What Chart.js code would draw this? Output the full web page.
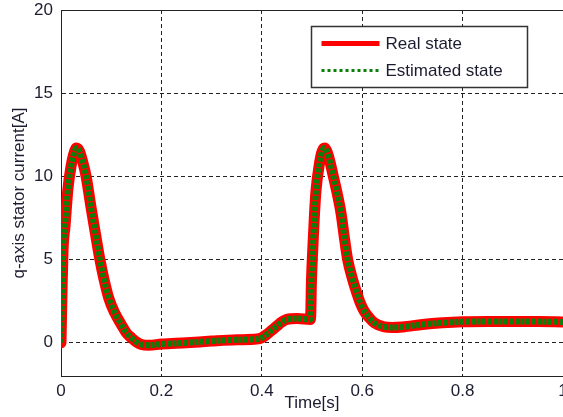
<!DOCTYPE html>
<html>
<head>
<meta charset="utf-8">
<script src="https://cdn.jsdelivr.net/npm/chart.js@4.4.1/dist/chart.umd.min.js"></script>
<style>
  html, body { margin: 0; padding: 0; background: #fff; }
  canvas { display: block; }
</style>
</head>
<body>
<canvas id="chart" width="563" height="417"></canvas>
<script>
// Datos (tiempo en s, corriente en A)
const timeValues = [0, 0.002, 0.004, 0.008, 0.014, 0.02, 0.025, 0.031, 0.037, 0.043, 0.05, 0.06, 0.07, 0.0775, 0.085, 0.095, 0.107, 0.12, 0.13, 0.14, 0.15, 0.16, 0.175, 0.2, 0.25, 0.3, 0.35, 0.39, 0.4, 0.41, 0.42, 0.43, 0.44, 0.45, 0.47, 0.497, 0.499, 0.502, 0.505, 0.508, 0.515, 0.52, 0.525, 0.532, 0.541, 0.55, 0.558, 0.565, 0.571, 0.58, 0.588, 0.596, 0.604, 0.614, 0.624, 0.644, 0.66, 0.68, 0.72, 0.76, 0.8, 0.85, 0.9, 0.95, 1.0];
const realState = [0, 3, 5.5, 7, 9.3, 10.6, 11.3, 11.7, 11.5, 10.9, 10.0, 8.1, 6.3, 5.0, 3.9, 2.7, 1.8, 1.1, 0.6, 0.3, 0.05, -0.1, -0.15, -0.08, 0.0, 0.1, 0.18, 0.22, 0.3, 0.5, 0.75, 1.0, 1.25, 1.4, 1.45, 1.4, 3.8, 5.9, 7.75, 9.15, 10.8, 11.5, 11.7, 11.3, 10.2, 9.0, 7.75, 6.2, 5.0, 3.9, 3.1, 2.4, 1.9, 1.5, 1.2, 0.95, 0.92, 0.95, 1.1, 1.2, 1.26, 1.28, 1.28, 1.27, 1.25];
const estimatedState = [0, 3, 5.5, 7, 9.3, 10.6, 11.3, 11.7, 11.5, 10.9, 10.0, 8.1, 6.3, 5.0, 3.9, 2.7, 1.8, 1.1, 0.6, 0.3, 0.05, -0.1, -0.15, -0.08, 0.0, 0.1, 0.18, 0.22, 0.3, 0.5, 0.75, 1.0, 1.25, 1.4, 1.45, 1.4, 3.8, 5.9, 7.75, 9.15, 10.8, 11.5, 11.7, 11.3, 10.2, 9.0, 7.75, 6.2, 5.0, 3.9, 3.1, 2.4, 1.9, 1.5, 1.2, 0.95, 0.92, 0.95, 1.1, 1.2, 1.26, 1.28, 1.28, 1.27, 1.25];
const seriesLabels = ['Real state', 'Estimated state'];
const xTickValues = [0, 0.2, 0.4, 0.6, 0.8, 1];
const yTickValues = [0, 5, 10, 15, 20];

const FONT = 'Liberation Sans, Arial, sans-serif';
const TEXT_COLOR = '#1c1c30';

const toPoints = (ys) => timeValues.map((t, i) => ({ x: t, y: ys[i] }));

// Marco superior y leyenda al estilo MATLAB
const framePlugin = {
  id: 'frame',
  afterDraw(chart) {
    const { ctx, chartArea } = chart;
    ctx.save();
    ctx.strokeStyle = '#222';
    ctx.lineWidth = 1;
    ctx.beginPath();
    ctx.moveTo(chartArea.left, chartArea.top + 0.5);
    ctx.lineTo(chartArea.right, chartArea.top + 0.5);
    ctx.stroke();

    // Leyenda
    const bx = chartArea.left + 250.5;
    const by = chartArea.top + 16.5;
    const bw = 216;
    const bh = 61;
    ctx.fillStyle = '#fff';
    ctx.fillRect(bx, by, bw, bh);
    ctx.strokeStyle = '#333';
    ctx.lineWidth = 1.5;
    ctx.strokeRect(bx, by, bw, bh);

    const rows = [by + 17, by + 44];
    chart.data.datasets.forEach((ds, i) => {
      ctx.beginPath();
      ctx.strokeStyle = ds.borderColor;
      ctx.lineWidth = i === 0 ? 5 : 3;
      ctx.setLineDash(i === 0 ? [] : [3, 3]);
      ctx.moveTo(bx + 10, rows[i]);
      ctx.lineTo(bx + 68, rows[i]);
      ctx.stroke();
      ctx.setLineDash([]);
      ctx.fillStyle = TEXT_COLOR;
      ctx.font = '17px ' + FONT;
      ctx.textBaseline = 'middle';
      ctx.textAlign = 'left';
      ctx.fillText(ds.label, bx + 74, rows[i] + 1);
    });
    ctx.restore();
  }
};

new Chart(document.getElementById('chart').getContext('2d'), {
  type: 'line',
  data: {
    datasets: [
      {
        label: seriesLabels[0],
        data: toPoints(realState),
        borderColor: '#ff0000',
        borderWidth: 11,
        pointRadius: 0,
        fill: false,
        order: 2,
        cubicInterpolationMode: 'monotone',
        borderJoinStyle: 'round',
        borderCapStyle: 'round'
      },
      {
        label: seriesLabels[1],
        data: toPoints(estimatedState),
        borderColor: '#0a800a',
        borderWidth: 6,
        borderDash: [4, 1.5],
        pointRadius: 0,
        fill: false,
        order: 1,
        cubicInterpolationMode: 'monotone'
      }
    ]
  },
  options: {
    responsive: false,
    animation: false,
    events: [],
    layout: {
      autoPadding: false,
      padding: { top: 10, right: 0, left: 0, bottom: 0 }
    },
    plugins: {
      legend: { display: false },
      tooltip: { enabled: false }
    },
    scales: {
      x: {
        type: 'linear',
        min: 0,
        max: 1,
        afterBuildTicks: (scale) => { scale.ticks = xTickValues.map(v => ({ value: v })); },
        afterFit: (scale) => {
          scale.height = 41;
          scale.paddingLeft = 0;
          scale.paddingRight = 0;
        },
        grid: { color: '#222', lineWidth: 1, drawTicks: false },
        border: { display: true, color: '#222', width: 1, dash: [4, 3] },
        ticks: {
          padding: 5,
          maxRotation: 0,
          color: TEXT_COLOR,
          font: { family: FONT, size: 17 },
          callback: (v) => String(v)
        },
        title: {
          display: true,
          text: 'Time[s]',
          color: TEXT_COLOR,
          font: { family: FONT, size: 17 },
          padding: { top: 0, bottom: 3 }
        }
      },
      y: {
        type: 'linear',
        min: -2,
        max: 20,
        afterBuildTicks: (scale) => { scale.ticks = yTickValues.map(v => ({ value: v })); },
        afterFit: (scale) => {
          scale.width = 61;
          scale.paddingTop = 0;
          scale.paddingBottom = 0;
        },
        grid: { color: '#222', lineWidth: 1, drawTicks: false },
        border: { display: true, color: '#222', width: 1, dash: [4, 3] },
        ticks: {
          padding: 8,
          color: TEXT_COLOR,
          font: { family: FONT, size: 17 }
        },
        title: {
          display: true,
          text: 'q-axis stator current[A]',
          color: TEXT_COLOR,
          font: { family: FONT, size: 17 },
          padding: { top: 9, bottom: 0 }
        }
      }
    }
  },
  plugins: [framePlugin]
});
</script>
</body>
</html>
